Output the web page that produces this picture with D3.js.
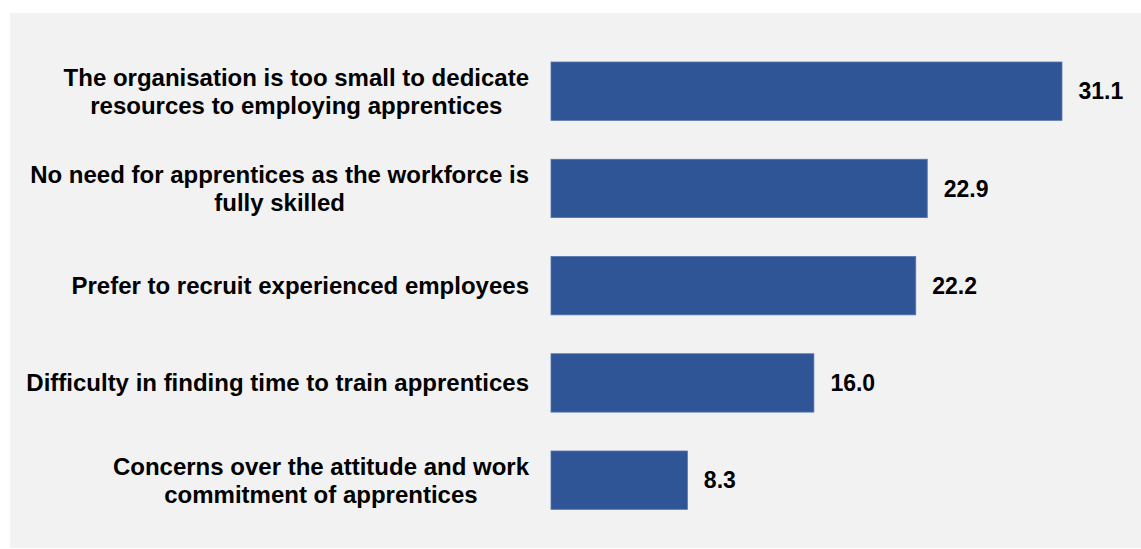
<!DOCTYPE html>
<html>
<head>
<meta charset="utf-8">
<script src="https://cdn.jsdelivr.net/npm/d3@7"></script>
<style>
  html, body { margin: 0; padding: 0; background: #ffffff; }
  svg { display: block; }
</style>
</head>
<body>
<svg id="chart" width="1141" height="549"></svg>
<script>
// Reasons for not employing apprentices (%)
const categories = [
  ["The organisation is too small to dedicate", "resources to employing apprentices"],
  ["No need for apprentices as the workforce is", "fully skilled"],
  ["Prefer to recruit experienced employees"],
  ["Difficulty in finding time to train apprentices"],
  ["Concerns over the attitude and work", "commitment of apprentices"]
];
const values = [31.1, 22.9, 22.2, 16.0, 8.3];

const svg = d3.select("#chart");
const W = 1141, H = 549;

// light grey panel
svg.append("rect")
  .attr("x", 10).attr("y", 13)
  .attr("width", W - 10).attr("height", 535)
  .attr("fill", "#f2f2f2");

const ids = d3.range(values.length);

const y = d3.scaleBand()
  .domain(ids)
  .range([42.55, 528.8])
  .paddingInner(0.4)
  .paddingOuter(0.2);

const x0 = 551;
const x = d3.scaleLinear()
  .domain([0, 35])
  .range([x0, x0 + 35 * 16.43]);

const font = "'Liberation Sans', Arial, sans-serif";

// bars
svg.append("g").selectAll("rect")
  .data(ids)
  .join("rect")
  .attr("x", x(0))
  .attr("y", i => y(i))
  .attr("width", i => x(values[i]) - x(0))
  .attr("height", y.bandwidth())
  .attr("fill", "#2f5597")
  .attr("stroke", "#5474ad")
  .attr("stroke-width", 0.8);

// value labels
svg.append("g").selectAll("text")
  .data(ids)
  .join("text")
  .attr("x", i => x(values[i]) + 16.5)
  .attr("y", i => y(i) + y.bandwidth() / 2)
  .attr("dy", "0.36em")
  .attr("font-family", font)
  .attr("font-weight", "bold")
  .attr("font-size", 23)
  .attr("fill", "#000")
  .text(i => values[i].toFixed(1));

// category labels: each block is right-aligned to the bars, its lines centred within it
const lineH = 28;
const labelRight = 529;
const labels = svg.append("g").selectAll("text")
  .data(ids)
  .join("text")
  .attr("font-family", font)
  .attr("font-weight", "bold")
  .attr("font-size", 24)
  .attr("fill", "#000");

labels.each(function(i) {
  const lines = categories[i];
  const cy = y(i) + y.bandwidth() / 2;
  const first = cy - (lines.length - 1) * lineH / 2;
  const t = d3.select(this);
  const spans = t.selectAll("tspan")
    .data(lines)
    .join("tspan")
    .attr("y", (d, k) => first + k * lineH)
    .attr("dy", "0.35em")
    .text(d => d);
  let maxW = 0;
  spans.each(function() { maxW = Math.max(maxW, this.getComputedTextLength()); });
  t.attr("text-anchor", "middle");
  spans.attr("x", labelRight - maxW / 2);
});
</script>
</body>
</html>
